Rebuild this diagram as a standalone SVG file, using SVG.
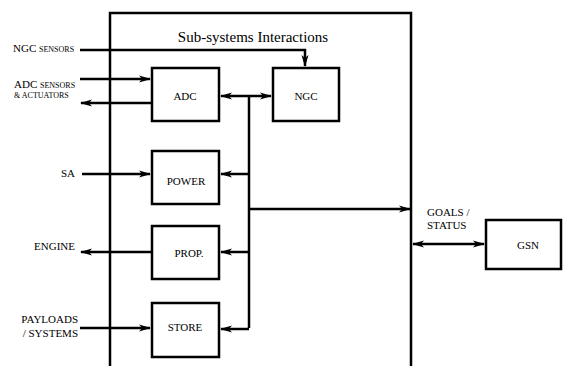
<svg xmlns="http://www.w3.org/2000/svg" width="564" height="366" viewBox="0 0 564 366">
<style>
.box{fill:#fff;stroke:#000;stroke-width:2.5}
.ln{fill:none;stroke:#000;stroke-width:2.5}
.t{font-family:"Liberation Serif","Times New Roman",serif;fill:#000}
.lb{font-size:11px}
.sc{font-size:8px}
</style>
<defs>
<marker id="ah" markerUnits="userSpaceOnUse" markerWidth="12" markerHeight="8" refX="11" refY="4" orient="auto-start-reverse">
<path d="M0,0.5 L12,4 L0,7.5 L3,4 z" fill="#000"/>
</marker>
</defs>
<rect id="frame" x="110" y="13" width="301" height="370" class="box" fill="none" style="fill:none"/>
<text class="t" x="253" y="42" font-size="15" text-anchor="middle">Sub-systems Interactions</text>
<g id="connectors">
<path class="ln" d="M80,50 H305 V66" marker-end="url(#ah)"/>
<path class="ln" d="M80,79 H150" marker-end="url(#ah)"/>
<path class="ln" d="M152,103 H81" marker-end="url(#ah)"/>
<path class="ln" d="M221,96 H271" marker-start="url(#ah)" marker-end="url(#ah)"/>
<path class="ln" d="M249,96 V328"/>
<path class="ln" d="M249,209 H410" marker-end="url(#ah)"/>
<path class="ln" d="M249,174 H221" marker-end="url(#ah)"/>
<path class="ln" d="M249,252 H221" marker-end="url(#ah)"/>
<path class="ln" d="M249,329 H221" marker-end="url(#ah)"/>
<path class="ln" d="M82,174 H150" marker-end="url(#ah)"/>
<path class="ln" d="M152,252 H81" marker-end="url(#ah)"/>
<path class="ln" d="M80,328 H150" marker-end="url(#ah)"/>
<path class="ln" d="M413,244 H484" marker-start="url(#ah)" marker-end="url(#ah)"/>
</g>
<g id="ADC"><rect class="box" x="152" y="68" width="67" height="53"/><text class="t lb" x="185" y="100" text-anchor="middle">ADC</text></g>
<g id="NGC"><rect class="box" x="273" y="68" width="66" height="53"/><text class="t lb" x="306" y="100" text-anchor="middle">NGC</text></g>
<g id="POWER"><rect class="box" x="152" y="151" width="67" height="53"/><text class="t lb" x="186" y="185" text-anchor="middle">POWER</text></g>
<g id="PROP"><rect class="box" x="152" y="226" width="67" height="53"/><text class="t lb" x="189" y="257" text-anchor="middle">PROP.</text></g>
<g id="STORE"><rect class="box" x="152" y="303" width="67" height="54"/><text class="t lb" x="185" y="331" text-anchor="middle">STORE</text></g>
<g id="GSN"><rect class="box" x="486" y="220" width="75" height="49"/><text class="t lb" x="528" y="249" text-anchor="middle">GSN</text></g>
<g id="labels">
<text class="t lb" x="13" y="52">NGC <tspan class="sc">SENSORS</tspan></text>
<text class="t lb" x="14" y="88">ADC <tspan class="sc">SENSORS</tspan></text>
<text class="t sc" x="14" y="98">&amp; ACTUATORS</text>
<text class="t lb" x="75" y="177" text-anchor="end">SA</text>
<text class="t lb" x="75" y="250" text-anchor="end">ENGINE</text>
<text class="t lb" x="78" y="323" text-anchor="end">PAYLOADS</text>
<text class="t lb" x="78" y="337" text-anchor="end">/ SYSTEMS</text>
<text class="t lb" x="427" y="216">GOALS /</text>
<text class="t lb" x="427" y="229">STATUS</text>
</g>
</svg>
